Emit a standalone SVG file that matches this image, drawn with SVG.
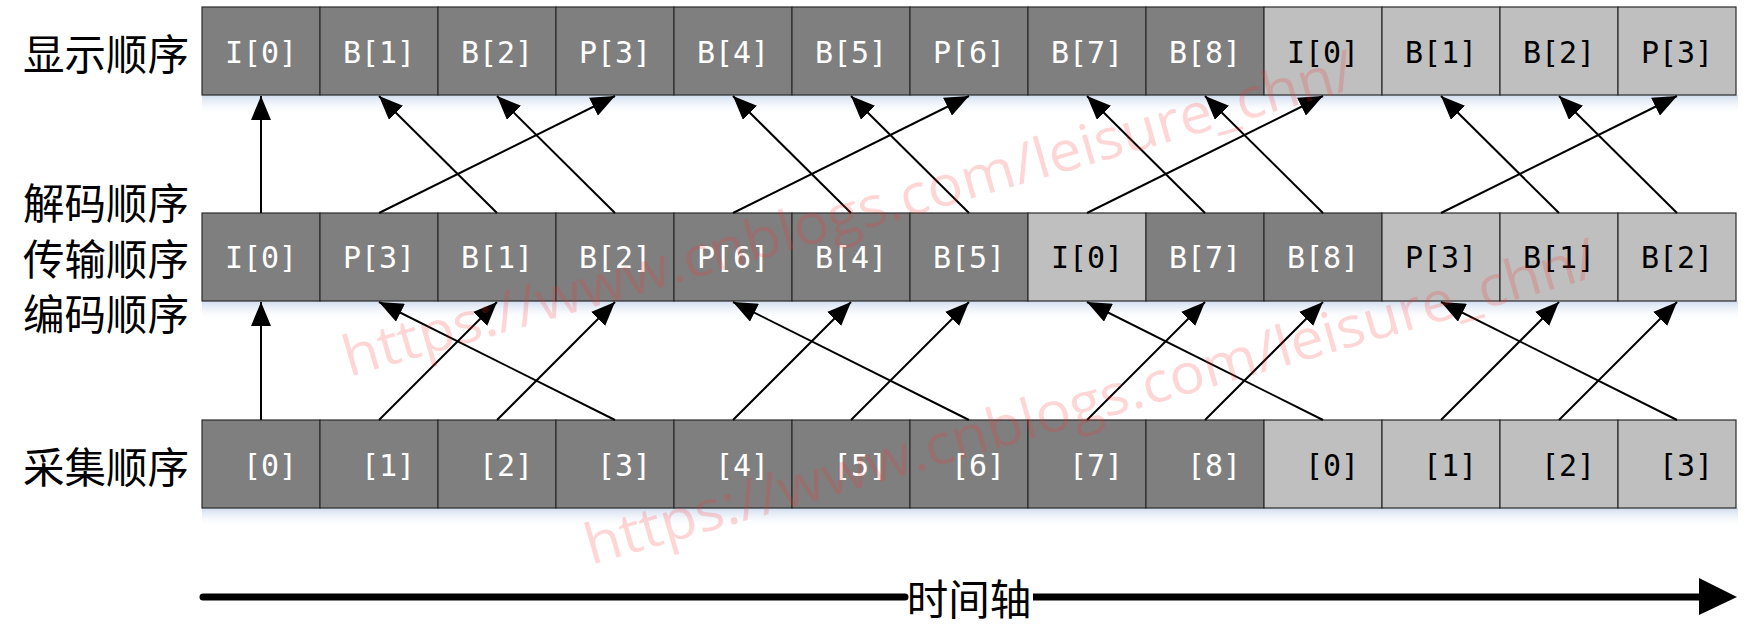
<svg xmlns="http://www.w3.org/2000/svg" width="1753" height="638" viewBox="0 0 1753 638">
<style>
.dk{fill:#7f7f7f}
.lt{fill:#bfbfbf}
.cell rect{stroke:#2b2b2b;stroke-width:1.2}
.cell text{font-family:"DejaVu Sans Mono","Liberation Mono",monospace;font-size:30px;text-anchor:middle;dominant-baseline:central}
.dk-t{fill:#ffffff}
.lt-t{fill:#000000}
.lbl{font-family:"Noto Sans CJK SC","Noto Sans",sans-serif;font-size:41.5px;fill:#000;dominant-baseline:central}
.conn line{stroke:#000;stroke-width:2;marker-end:url(#ah)}
.shadow{fill:url(#sh)}
.wm{font-family:"Open Sans","Liberation Sans",sans-serif;font-size:56px;fill:#ff3030;fill-opacity:0.2}
</style>
<defs>
<marker id="ah" markerUnits="userSpaceOnUse" markerWidth="24" markerHeight="20" viewBox="0 0 24 20" refX="24" refY="10" orient="auto">
<path d="M0,0 L24,10 L0,20 z" fill="#000"/>
</marker>
<linearGradient id="sh" x1="0" y1="0" x2="0" y2="1">
<stop offset="0" stop-color="#c9d8ec" stop-opacity="0.9"/>
<stop offset="1" stop-color="#ffffff" stop-opacity="0"/>
</linearGradient>
</defs>
<rect width="1753" height="638" fill="#fff"/>

<!-- shadows -->
<rect class="shadow" x="202" y="95" width="1536" height="20"/>
<rect class="shadow" x="202" y="301" width="1536" height="20"/>
<rect class="shadow" x="202" y="508" width="1536" height="20"/>

<!-- row labels -->
<g id="label-display"><text class="lbl" x="23" y="52">显示顺序</text></g>
<g id="label-decode"><text class="lbl" x="23" y="201">解码顺序</text></g>
<g id="label-transmit"><text class="lbl" x="23" y="257">传输顺序</text></g>
<g id="label-encode"><text class="lbl" x="23" y="312">编码顺序</text></g>
<g id="label-capture"><text class="lbl" x="23" y="465">采集顺序</text></g>

<!-- top row: display order -->
<g id="top-0" class="cell"><rect class="dk" x="202" y="7" width="118" height="88"/><text class="dk-t" x="261" y="52">I[0]</text></g>
<g id="top-1" class="cell"><rect class="dk" x="320" y="7" width="118" height="88"/><text class="dk-t" x="379" y="52">B[1]</text></g>
<g id="top-2" class="cell"><rect class="dk" x="438" y="7" width="118" height="88"/><text class="dk-t" x="497" y="52">B[2]</text></g>
<g id="top-3" class="cell"><rect class="dk" x="556" y="7" width="118" height="88"/><text class="dk-t" x="615" y="52">P[3]</text></g>
<g id="top-4" class="cell"><rect class="dk" x="674" y="7" width="118" height="88"/><text class="dk-t" x="733" y="52">B[4]</text></g>
<g id="top-5" class="cell"><rect class="dk" x="792" y="7" width="118" height="88"/><text class="dk-t" x="851" y="52">B[5]</text></g>
<g id="top-6" class="cell"><rect class="dk" x="910" y="7" width="118" height="88"/><text class="dk-t" x="969" y="52">P[6]</text></g>
<g id="top-7" class="cell"><rect class="dk" x="1028" y="7" width="118" height="88"/><text class="dk-t" x="1087" y="52">B[7]</text></g>
<g id="top-8" class="cell"><rect class="dk" x="1146" y="7" width="118" height="88"/><text class="dk-t" x="1205" y="52">B[8]</text></g>
<g id="top-9" class="cell"><rect class="lt" x="1264" y="7" width="118" height="88"/><text class="lt-t" x="1323" y="52">I[0]</text></g>
<g id="top-10" class="cell"><rect class="lt" x="1382" y="7" width="118" height="88"/><text class="lt-t" x="1441" y="52">B[1]</text></g>
<g id="top-11" class="cell"><rect class="lt" x="1500" y="7" width="118" height="88"/><text class="lt-t" x="1559" y="52">B[2]</text></g>
<g id="top-12" class="cell"><rect class="lt" x="1618" y="7" width="118" height="88"/><text class="lt-t" x="1677" y="52">P[3]</text></g>

<!-- middle row: decode / transmit / encode order -->
<g id="mid-0" class="cell"><rect class="dk" x="202" y="213" width="118" height="88"/><text class="dk-t" x="261" y="257">I[0]</text></g>
<g id="mid-1" class="cell"><rect class="dk" x="320" y="213" width="118" height="88"/><text class="dk-t" x="379" y="257">P[3]</text></g>
<g id="mid-2" class="cell"><rect class="dk" x="438" y="213" width="118" height="88"/><text class="dk-t" x="497" y="257">B[1]</text></g>
<g id="mid-3" class="cell"><rect class="dk" x="556" y="213" width="118" height="88"/><text class="dk-t" x="615" y="257">B[2]</text></g>
<g id="mid-4" class="cell"><rect class="dk" x="674" y="213" width="118" height="88"/><text class="dk-t" x="733" y="257">P[6]</text></g>
<g id="mid-5" class="cell"><rect class="dk" x="792" y="213" width="118" height="88"/><text class="dk-t" x="851" y="257">B[4]</text></g>
<g id="mid-6" class="cell"><rect class="dk" x="910" y="213" width="118" height="88"/><text class="dk-t" x="969" y="257">B[5]</text></g>
<g id="mid-7" class="cell"><rect class="lt" x="1028" y="213" width="118" height="88"/><text class="lt-t" x="1087" y="257">I[0]</text></g>
<g id="mid-8" class="cell"><rect class="dk" x="1146" y="213" width="118" height="88"/><text class="dk-t" x="1205" y="257">B[7]</text></g>
<g id="mid-9" class="cell"><rect class="dk" x="1264" y="213" width="118" height="88"/><text class="dk-t" x="1323" y="257">B[8]</text></g>
<g id="mid-10" class="cell"><rect class="lt" x="1382" y="213" width="118" height="88"/><text class="lt-t" x="1441" y="257">P[3]</text></g>
<g id="mid-11" class="cell"><rect class="lt" x="1500" y="213" width="118" height="88"/><text class="lt-t" x="1559" y="257">B[1]</text></g>
<g id="mid-12" class="cell"><rect class="lt" x="1618" y="213" width="118" height="88"/><text class="lt-t" x="1677" y="257">B[2]</text></g>

<!-- bottom row: capture order -->
<g id="bot-0" class="cell"><rect class="dk" x="202" y="420" width="118" height="88"/><text class="dk-t" x="270" y="465">[0]</text></g>
<g id="bot-1" class="cell"><rect class="dk" x="320" y="420" width="118" height="88"/><text class="dk-t" x="388" y="465">[1]</text></g>
<g id="bot-2" class="cell"><rect class="dk" x="438" y="420" width="118" height="88"/><text class="dk-t" x="506" y="465">[2]</text></g>
<g id="bot-3" class="cell"><rect class="dk" x="556" y="420" width="118" height="88"/><text class="dk-t" x="624" y="465">[3]</text></g>
<g id="bot-4" class="cell"><rect class="dk" x="674" y="420" width="118" height="88"/><text class="dk-t" x="742" y="465">[4]</text></g>
<g id="bot-5" class="cell"><rect class="dk" x="792" y="420" width="118" height="88"/><text class="dk-t" x="860" y="465">[5]</text></g>
<g id="bot-6" class="cell"><rect class="dk" x="910" y="420" width="118" height="88"/><text class="dk-t" x="978" y="465">[6]</text></g>
<g id="bot-7" class="cell"><rect class="dk" x="1028" y="420" width="118" height="88"/><text class="dk-t" x="1096" y="465">[7]</text></g>
<g id="bot-8" class="cell"><rect class="dk" x="1146" y="420" width="118" height="88"/><text class="dk-t" x="1214" y="465">[8]</text></g>
<g id="bot-9" class="cell"><rect class="lt" x="1264" y="420" width="118" height="88"/><text class="lt-t" x="1332" y="465">[0]</text></g>
<g id="bot-10" class="cell"><rect class="lt" x="1382" y="420" width="118" height="88"/><text class="lt-t" x="1450" y="465">[1]</text></g>
<g id="bot-11" class="cell"><rect class="lt" x="1500" y="420" width="118" height="88"/><text class="lt-t" x="1568" y="465">[2]</text></g>
<g id="bot-12" class="cell"><rect class="lt" x="1618" y="420" width="118" height="88"/><text class="lt-t" x="1686" y="465">[3]</text></g>

<!-- connectors -->
<g id="connectors" class="conn">
<!-- decode -> display -->
<line x1="261" y1="213" x2="261" y2="96"/>
<line x1="379" y1="213" x2="615" y2="96"/>
<line x1="497" y1="213" x2="379" y2="96"/>
<line x1="615" y1="213" x2="497" y2="96"/>
<line x1="733" y1="213" x2="969" y2="96"/>
<line x1="851" y1="213" x2="733" y2="96"/>
<line x1="969" y1="213" x2="851" y2="96"/>
<line x1="1087" y1="213" x2="1323" y2="96"/>
<line x1="1205" y1="213" x2="1087" y2="96"/>
<line x1="1323" y1="213" x2="1205" y2="96"/>
<line x1="1441" y1="213" x2="1677" y2="96"/>
<line x1="1559" y1="213" x2="1441" y2="96"/>
<line x1="1677" y1="213" x2="1559" y2="96"/>
<!-- capture -> encode -->
<line x1="261" y1="420" x2="261" y2="302"/>
<line x1="379" y1="420" x2="497" y2="302"/>
<line x1="497" y1="420" x2="615" y2="302"/>
<line x1="615" y1="420" x2="379" y2="302"/>
<line x1="733" y1="420" x2="851" y2="302"/>
<line x1="851" y1="420" x2="969" y2="302"/>
<line x1="969" y1="420" x2="733" y2="302"/>
<line x1="1087" y1="420" x2="1205" y2="302"/>
<line x1="1205" y1="420" x2="1323" y2="302"/>
<line x1="1323" y1="420" x2="1087" y2="302"/>
<line x1="1441" y1="420" x2="1559" y2="302"/>
<line x1="1559" y1="420" x2="1677" y2="302"/>
<line x1="1677" y1="420" x2="1441" y2="302"/>
</g>

<!-- time axis -->
<g id="time-axis">
<line x1="203" y1="597" x2="905" y2="597" stroke="#000" stroke-width="7" stroke-linecap="round"/>
<line x1="1033" y1="597" x2="1702" y2="597" stroke="#000" stroke-width="7"/>
<polygon points="1699,578 1737,597 1699,615" fill="#000"/>
<text class="lbl" x="969" y="597" text-anchor="middle">时间轴</text>
</g>

<!-- watermark -->
<g id="watermark">
<text class="wm" x="349" y="377" transform="rotate(-16 349 377)" textLength="1050" lengthAdjust="spacingAndGlyphs">https://www.cnblogs.com/leisure_chn/</text>
<text class="wm" x="591" y="565" transform="rotate(-16 591 565)" textLength="1050" lengthAdjust="spacingAndGlyphs">https://www.cnblogs.com/leisure_chn/</text>
</g>
</svg>
